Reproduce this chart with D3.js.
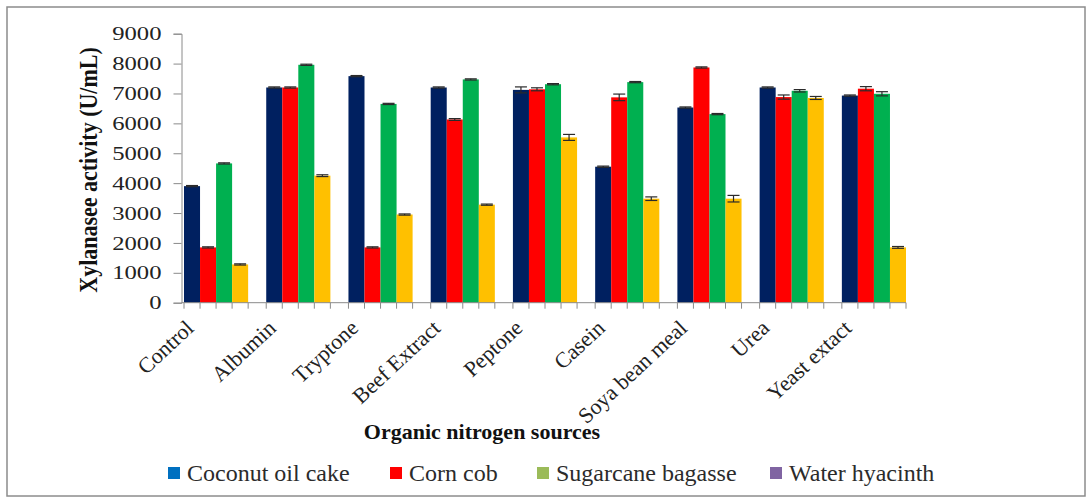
<!DOCTYPE html>
<html>
<head>
<meta charset="utf-8">
<script src="https://cdn.jsdelivr.net/npm/d3@7"></script>
<style>
  html, body { margin: 0; padding: 0; background: #fff; }
  svg { display: block; }
</style>
</head>
<body>
<svg id="chart" width="1091" height="499"></svg>
<script>
// ---- data ----
const categories = ["Control", "Albumin", "Tryptone", "Beef Extract", "Peptone", "Casein", "Soya bean meal", "Urea", "Yeast extact"];
const seriesNames = ["Coconut oil cake", "Corn cob", "Sugarcane bagasse", "Water hyacinth"];
const coconutOilCake   = [3900, 7200, 7580, 7200, 7120, 4550, 6530, 7200, 6930];
const cornCob          = [1850, 7200, 1850, 6130, 7140, 6870, 7870, 6880, 7160];
const sugarcaneBagasse = [4660, 7960, 6650, 7470, 7310, 7380, 6310, 7090, 6990];
const waterHyacinth    = [1280, 4250, 2950, 3280, 5530, 3480, 3480, 6850, 1850];
const coconutErr   = [20, 20, 20, 20, 100, 20, 20, 20, 20];
const cornErr      = [20, 20, 20, 30, 50, 110, 20, 70, 70];
const sugarcaneErr = [20, 20, 20, 20, 20, 20, 20, 40, 70];
const hyacinthErr  = [20, 30, 20, 20, 100, 60, 110, 50, 30];
const yTicks = [0, 1000, 2000, 3000, 4000, 5000, 6000, 7000, 8000, 9000];
const barColors = ["#002060", "#FF0000", "#00B050", "#FFC000"];
const legendColors = ["#0070C0", "#FF0000", "#9BBB59", "#8064A2"];

const values = [coconutOilCake, cornCob, sugarcaneBagasse, waterHyacinth];
const errors = [coconutErr, cornErr, sugarcaneErr, hyacinthErr];
const FONT = "'Liberation Serif', 'Times New Roman', serif";

const svg = d3.select("#chart");

// frame
svg.append("rect").attr("x", 7).attr("y", 7).attr("width", 1078).attr("height", 489)
  .attr("fill", "#fff").attr("stroke", "#8c8c8c").attr("stroke-width", 1.5);

// scales
const y = d3.scaleLinear().domain([0, 9000]).range([302.7, 33.7]);
const x0 = d3.scaleBand().domain(categories).range([184, 906]).paddingInner(0.22).paddingOuter(0);
const x1 = d3.scaleBand().domain(seriesNames).range([0, x0.bandwidth()]).padding(0);

const axisColor = "#8a8a8a";
const axisX = 181.5;

// y axis
const yAxis = svg.append("g").attr("transform", `translate(${axisX},0)`)
  .call(d3.axisLeft(y).tickValues(yTicks).tickSize(8).tickPadding(4).tickFormat(d3.format("d")));
yAxis.select(".domain").attr("stroke", axisColor);
yAxis.selectAll(".tick line").attr("stroke", axisColor);
yAxis.selectAll(".tick text")
  .style("font-family", FONT).style("font-size", "18px").attr("fill", "#222")
  .attr("text-anchor", "end").attr("x", 0).attr("dy", "0.34em")
  .attr("transform", "translate(-20,0) scale(1.37,1)");

// bars
const data = [];
categories.forEach((c, i) => seriesNames.forEach((s, j) => data.push({c, s, j, v: values[j][i], e: errors[j][i]})));

const gBars = svg.append("g");
gBars.selectAll("rect").data(data).join("rect")
  .attr("x", d => x0(d.c) + x1(d.s))
  .attr("y", d => y(d.v))
  .attr("width", x1.bandwidth())
  .attr("height", d => y(0) - y(d.v))
  .attr("fill", d => barColors[d.j]);

// error bars
const gErr = svg.append("g").attr("stroke", "#2a2a2a").attr("stroke-width", 1.2);
data.forEach(d => {
  const cx = x0(d.c) + x1(d.s) + x1.bandwidth() / 2;
  gErr.append("line").attr("x1", cx).attr("x2", cx).attr("y1", y(d.v + d.e)).attr("y2", y(d.v - d.e));
  [d.v + d.e, d.v - d.e].forEach(v => gErr.append("line").attr("x1", cx - 6).attr("x2", cx + 6).attr("y1", y(v)).attr("y2", y(v)));
});

// x axis line and ticks
const xAxisG = svg.append("g");
xAxisG.append("line").attr("x1", axisX).attr("x2", x0(categories[categories.length - 1]) + x0.bandwidth())
  .attr("y1", y(0)).attr("y2", y(0)).attr("stroke", axisColor);
const tickXs = [];
categories.forEach(c => {
  seriesNames.forEach(s => tickXs.push(x0(c) + x1(s)));
  tickXs.push(x0(c) + x0.bandwidth());
});
xAxisG.selectAll("line.t").data(tickXs).join("line").attr("class", "t")
  .attr("x1", d => d).attr("x2", d => d).attr("y1", y(0)).attr("y2", y(0) + 6).attr("stroke", axisColor);

// category labels
svg.append("g").selectAll("text").data(categories).join("text")
  .attr("transform", c => `translate(${x0(c) + x0.bandwidth() / 2 - 21},${y(0) + 27}) rotate(-43)`)
  .attr("text-anchor", "end")
  .style("font-family", FONT).style("font-size", "22px").attr("fill", "#222")
  .text(c => c);

// axis titles
svg.append("text").attr("x", 482).attr("y", 439).attr("text-anchor", "middle")
  .style("font-family", FONT).style("font-size", "22px").style("font-weight", "bold").attr("fill", "#111")
  .text("Organic nitrogen sources");
svg.append("text").attr("transform", "translate(97,170) rotate(-90) scale(1,1.12)")
  .attr("text-anchor", "middle").style("font-family", FONT).style("font-size", "22px").style("font-weight", "bold").attr("fill", "#111")
  .text("Xylanasee activity (U/mL)");

// legend
const legendXs = [168, 390, 537, 770];
const lg = svg.append("g");
seriesNames.forEach((s, j) => {
  lg.append("rect").attr("x", legendXs[j]).attr("y", 467).attr("width", 12).attr("height", 12).attr("fill", legendColors[j]);
  lg.append("text").attr("x", legendXs[j] + 19).attr("y", 481)
    .style("font-family", FONT).style("font-size", "24px").attr("fill", "#2b2b2b").text(s);
});
</script>
</body>
</html>
